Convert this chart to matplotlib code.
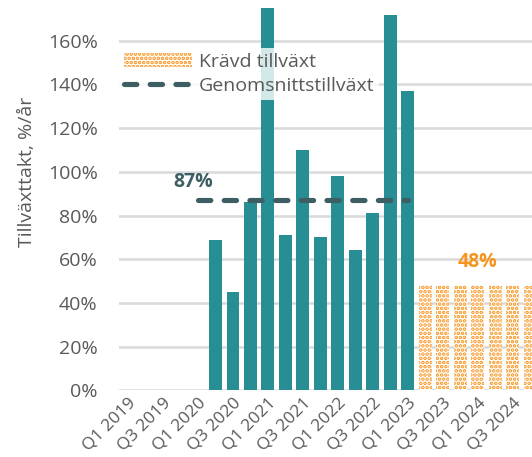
import matplotlib
matplotlib.use("Agg")
import matplotlib.pyplot as plt
import numpy as np
from matplotlib.patches import Patch
from matplotlib.lines import Line2D

plt.rcParams['font.family'] = ['Open Sans', 'DejaVu Sans']
plt.rcParams['hatch.linewidth'] = 1.8

# ---- data ----
quarters = [f"Q{q} {y}" for y in range(2019, 2025) for q in range(1, 5)]
tick_labels = [lab if lab.startswith(("Q1", "Q3")) else "" for lab in quarters]

nan = np.nan
growth = [nan, nan, nan, nan, nan,
          0.69, 0.45, 0.86, 1.80, 0.71, 1.10, 0.70, 0.98, 0.64, 0.81, 1.72, 1.37,
          nan, nan, nan, nan, nan, nan, nan]
required = [nan, nan, nan, nan, -0.01,
            nan, nan, nan, nan, nan, nan, nan, nan, nan, nan, nan, nan,
            0.48, 0.48, 0.48, 0.48, 0.48, 0.48, 0.48]
average = [nan, nan, nan, nan,
           0.87, 0.87, 0.87, 0.87, 0.87, 0.87, 0.87, 0.87, 0.87, 0.87, 0.87, 0.87, 0.87,
           nan, nan, nan, nan, nan, nan, nan]
avg_label = "87%"
req_label = "48%"
yticks = [0, 0.2, 0.4, 0.6, 0.8, 1.0, 1.2, 1.4, 1.6]

TEAL = "#278f93"
ORANGE = "#f7941d"
SLATE = "#3d5e62"
GRAY = "#595959"
GRID = "#d9d9d9"

fig = plt.figure(figsize=(5.32, 4.57), dpi=100)
ax = fig.add_axes([119.25 / 532, 66.7 / 457, 1 - 119.25 / 532, 382.3 / 457])

x = np.arange(len(quarters))
ax.bar(x, growth, width=0.74, color=TEAL, zorder=2)
ax.bar(x, required, width=0.74, facecolor="white", edgecolor=ORANGE,
       linewidth=0, hatch="....", zorder=2)
ax.plot(x, average, color=SLATE, lw=3.7, linestyle=(0, (2.4, 2.6)),
        dash_capstyle="round", zorder=3)

ax.text(3.75, 0.953, avg_label, color=SLATE, fontsize=14, fontweight="bold",
        ha="center", va="center")
ax.text(20, 0.587, req_label, color=ORANGE, fontsize=14, fontweight="bold",
        ha="center", va="center")

ax.set_xlim(-0.5, 23.09)
ax.set_ylim(0, 1.75)
ax.set_yticks(yticks)
ax.set_yticklabels([f"{int(round(v * 100))}%" for v in yticks])
ax.set_xticks(x)
ax.set_xticklabels(tick_labels, rotation=45, ha="right", rotation_mode="anchor")
ax.tick_params(axis="y", length=0, pad=15.5, labelsize=14, labelcolor=GRAY)
ax.tick_params(axis="x", length=0, pad=3.5, labelsize=12.5, labelcolor=GRAY)
for s in ax.spines.values():
    s.set_visible(False)
ax.grid(axis="y", color=GRID, lw=1.8, zorder=0)
ax.set_axisbelow(True)

fig.text(27 / 532, 1 - 172 / 457, "Tillväxttakt, %/år", rotation=90,
         ha="center", va="center", fontsize=14, color=GRAY)

handles = [Patch(facecolor="white", edgecolor=ORANGE, linewidth=0, hatch="...."),
           Line2D([0], [0], color=SLATE, lw=3.7, linestyle=(0, (2.4, 2.6)),
                  dash_capstyle="round")]
leg = ax.legend(handles, ["Krävd tillväxt", "Genomsnittstillväxt"],
                loc="upper left", bbox_to_anchor=(0.0, 0.895), fontsize=14,
                frameon=True, handlelength=3.5, handleheight=0.7,
                handletextpad=0.35, labelspacing=0.3, borderpad=0.25,
                borderaxespad=0.0, labelcolor=GRAY)
leg.get_frame().set_facecolor("white")
leg.get_frame().set_alpha(0.8)
leg.get_frame().set_linewidth(0)
leg.get_frame().set_boxstyle("square", pad=0)

fig.savefig("out.png", dpi=100)
